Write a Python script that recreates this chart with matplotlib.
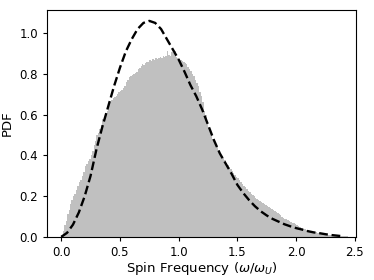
import matplotlib
matplotlib.use('Agg')
import matplotlib.pyplot as plt
import numpy as np

# Histogram of measured spin frequencies (bin edges start at 0, width 0.0125)
bin_width = 0.0125
hist_heights = [
    0.01, 0.03, 0.06, 0.08, 0.11, 0.13, 0.16, 0.18,
    0.20, 0.21, 0.23, 0.25, 0.27, 0.28, 0.30, 0.32,
    0.35, 0.36, 0.37, 0.38, 0.40, 0.42, 0.45, 0.47,
    0.50, 0.51, 0.53, 0.55, 0.58, 0.59, 0.61, 0.62,
    0.65, 0.66, 0.67, 0.68, 0.685, 0.69, 0.70, 0.71,
    0.715, 0.72, 0.73, 0.74, 0.76, 0.77, 0.785, 0.79,
    0.795, 0.80, 0.805, 0.81, 0.825, 0.83, 0.84, 0.85,
    0.845, 0.855, 0.86, 0.86, 0.87, 0.865, 0.875, 0.87,
    0.88, 0.875, 0.88, 0.885, 0.88, 0.89, 0.885, 0.89,
    0.91, 0.895, 0.89, 0.905, 0.90, 0.91, 0.885, 0.88,
    0.875, 0.87, 0.865, 0.86, 0.855, 0.85, 0.835, 0.825,
    0.815, 0.80, 0.79, 0.77, 0.755, 0.74, 0.71, 0.69,
    0.66, 0.62, 0.60, 0.57, 0.54, 0.52, 0.50, 0.48,
    0.465, 0.455, 0.44, 0.425, 0.41, 0.395, 0.385, 0.375,
    0.365, 0.355, 0.345, 0.335, 0.325, 0.315, 0.305, 0.295,
    0.29, 0.28, 0.27, 0.26, 0.25, 0.245, 0.235, 0.225,
    0.22, 0.21, 0.205, 0.20, 0.192, 0.188, 0.18, 0.175,
    0.172, 0.168, 0.162, 0.158, 0.152, 0.148, 0.14, 0.135,
    0.13, 0.125, 0.12, 0.115, 0.11, 0.105, 0.10, 0.095,
    0.09, 0.086, 0.082, 0.078, 0.074, 0.07, 0.067, 0.064,
    0.058, 0.054, 0.05, 0.046, 0.043, 0.04, 0.037, 0.034,
    0.032, 0.03, 0.028, 0.026, 0.024, 0.022, 0.02, 0.019,
    0.018, 0.016, 0.015, 0.013, 0.012, 0.011, 0.01, 0.009,
    0.008, 0.007, 0.006, 0.005, 0.005, 0.004, 0.004, 0.003,
    0.003, 0.002, 0.002, 0.001,
]
bin_edges = np.arange(len(hist_heights) + 1) * bin_width

# Model PDF (dashed curve)
model_x = [
    0.00, 0.05, 0.10, 0.15, 0.20, 0.25, 0.30, 0.35, 0.40, 0.45,
    0.50, 0.55, 0.60, 0.65, 0.70, 0.75, 0.80, 0.85, 0.90, 0.95,
    1.00, 1.05, 1.10, 1.15, 1.20, 1.25, 1.30, 1.35, 1.40, 1.45,
    1.50, 1.55, 1.60, 1.65, 1.70, 1.75, 1.80, 1.85, 1.90, 1.95,
    2.00, 2.05, 2.10, 2.15, 2.20, 2.25, 2.30, 2.35, 2.40,
]
model_pdf = [
    0.0, 0.02, 0.06, 0.12, 0.20, 0.30, 0.43, 0.54, 0.64, 0.74,
    0.83, 0.91, 0.97, 1.02, 1.05, 1.06, 1.05, 1.02, 0.97, 0.92,
    0.87, 0.81, 0.745, 0.69, 0.625, 0.55, 0.475, 0.41, 0.36, 0.31,
    0.255, 0.215, 0.18, 0.15, 0.125, 0.105, 0.088, 0.075, 0.062, 0.052,
    0.043, 0.036, 0.028, 0.022, 0.018, 0.013, 0.009, 0.006, 0.003,
]

fig = plt.figure(figsize=(3.74, 2.80), dpi=100)
ax = fig.add_axes([0.126, 0.154, 0.826, 0.810])

ax.stairs(hist_heights, bin_edges, fill=True, color='silver', linewidth=0)
ax.plot(model_x, model_pdf, 'k--', linewidth=1.7)

ax.set_xlim(-0.12, 2.51)
ax.set_ylim(0, 1.113)
ax.set_xticks([0.0, 0.5, 1.0, 1.5, 2.0, 2.5])
ax.set_yticks([0.0, 0.2, 0.4, 0.6, 0.8, 1.0])
ax.tick_params(labelsize=8.5, length=3)
ax.set_xlabel(r'Spin Frequency ($\omega/\omega_U$)', fontsize=9.5, labelpad=1)
ax.set_ylabel('PDF', fontsize=9.5, labelpad=4)

fig.savefig('out.png', dpi=100)
